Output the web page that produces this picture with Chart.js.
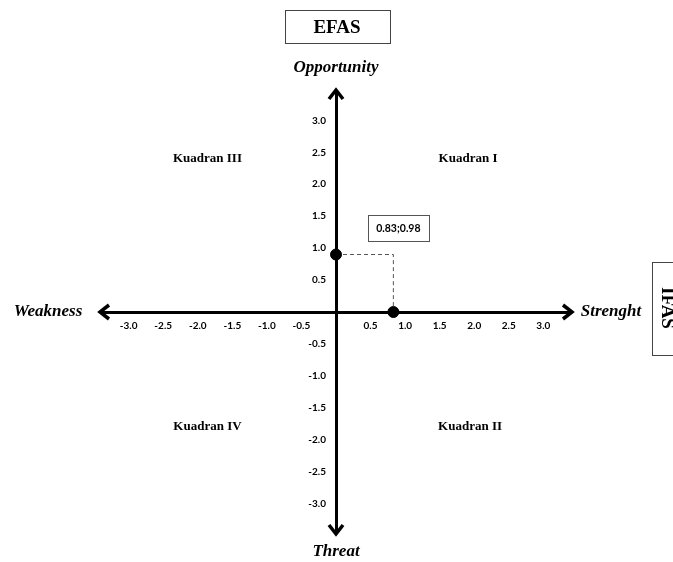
<!DOCTYPE html>
<html lang="id">
<head>
<meta charset="UTF-8">
<title>Matriks IFAS - EFAS</title>
<script src="https://cdn.jsdelivr.net/npm/chart.js"></script>
<style>
    body { margin: 0; background: #fff; }
    #wrap { width: 673px; height: 562px; }
</style>
</head>
<body>
<div id="wrap"><canvas id="chart" width="673" height="562"></canvas></div>
<script>
    // nilai hasil analisis
    const ifasScore = 0.83;
    const efasPlotted = 0.9;
    const pointLabel = '0.83;0.98';

    const xTickValues = [-3.0, -2.5, -2.0, -1.5, -1.0, -0.5, 0.5, 1.0, 1.5, 2.0, 2.5, 3.0];
    const yTickValues = [-3.0, -2.5, -2.0, -1.5, -1.0, -0.5, 0.5, 1.0, 1.5, 2.0, 2.5, 3.0];

    const quadrantNames = ['Kuadran III', 'Kuadran I', 'Kuadran IV', 'Kuadran II'];
    const quadrantX = [-1.86, 1.91, -1.86, 1.94];
    const quadrantY = [2.4, 2.4, -1.8, -1.8];

    const SERIF = '"Liberation Serif", "Times New Roman", serif';
    const SANS = 'Lato, "Open Sans", Arial, sans-serif';

    function arrowHead(ctx, x, y, dir) {
        // dir: 'right','left','up','down'
        const len = 9, half = 7;
        ctx.beginPath();
        if (dir === 'right') { ctx.moveTo(x - len, y - half); ctx.lineTo(x, y); ctx.lineTo(x - len, y + half); }
        if (dir === 'left')  { ctx.moveTo(x + len, y - half); ctx.lineTo(x, y); ctx.lineTo(x + len, y + half); }
        if (dir === 'up')    { ctx.moveTo(x - half, y + len); ctx.lineTo(x, y); ctx.lineTo(x + half, y + len); }
        if (dir === 'down')  { ctx.moveTo(x - half, y - len); ctx.lineTo(x, y); ctx.lineTo(x + half, y - len); }
        ctx.stroke();
    }

    const decorations = {
        id: 'decorations',
        afterDraw(chart) {
            const ctx = chart.ctx;
            const area = chart.chartArea;
            const xs = chart.scales.x, ys = chart.scales.y;
            const x0 = xs.getPixelForValue(0), y0 = ys.getPixelForValue(0);
            ctx.save();

            // panah ujung sumbu
            ctx.strokeStyle = '#000';
            ctx.lineWidth = 3.5;
            ctx.lineJoin = 'miter';
            arrowHead(ctx, area.right + 1, y0, 'right');
            arrowHead(ctx, area.left - 1, y0, 'left');
            arrowHead(ctx, x0, area.top - 1, 'up');
            arrowHead(ctx, x0, area.bottom + 1, 'down');

            // label arah
            ctx.fillStyle = '#000';
            ctx.textAlign = 'center';
            ctx.textBaseline = 'middle';
            ctx.font = 'italic bold 17px ' + SERIF;
            ctx.fillText('Opportunity', x0, 68);
            ctx.fillText('Threat', x0, 552);
            ctx.fillText('Weakness', 48, y0);
            ctx.fillText('Strenght', 611, y0);

            // kotak EFAS
            ctx.strokeStyle = '#444';
            ctx.lineWidth = 1;
            ctx.strokeRect(285.5, 10.5, 105, 33);
            ctx.font = 'bold 19px ' + SERIF;
            ctx.fillText('EFAS', 337, 28);

            // kotak IFAS (diputar)
            ctx.strokeRect(652.5, 262.5, 34, 93);
            ctx.save();
            ctx.translate(667, 308);
            ctx.rotate(Math.PI / 2);
            ctx.fillText('IFAS', 0, 0);
            ctx.restore();

            // nama kuadran
            ctx.font = 'bold 13px ' + SERIF;
            quadrantNames.forEach((name, i) => {
                ctx.fillText(name, xs.getPixelForValue(quadrantX[i]), ys.getPixelForValue(quadrantY[i]));
            });

            // kotak nilai titik
            const bx = xs.getPixelForValue(ifasScore) + 5;
            const by = ys.getPixelForValue(efasPlotted) - 27;
            ctx.strokeStyle = '#555';
            ctx.strokeRect(Math.round(bx - 30) + 0.5, Math.round(by - 13) + 0.5, 61, 26);
            ctx.font = 'bold 10.5px ' + SANS;
            ctx.fillText(pointLabel, bx, by + 1);

            ctx.restore();
        }
    };

    function tickSetter(values) {
        return function (scale) {
            scale.ticks = values.map(v => ({ value: v }));
        };
    }

    new Chart(document.getElementById('chart').getContext('2d'), {
        type: 'scatter',
        data: {
            datasets: [
                {
                    label: 'posisi',
                    data: [{ x: 0, y: efasPlotted }, { x: ifasScore, y: 0 }],
                    backgroundColor: '#000',
                    borderColor: '#000',
                    pointRadius: 5.5,
                    order: 1
                },
                {
                    label: 'garis bantu',
                    data: [{ x: 0, y: efasPlotted }, { x: ifasScore, y: efasPlotted }, { x: ifasScore, y: 0 }],
                    showLine: true,
                    borderColor: '#555',
                    borderWidth: 1,
                    borderDash: [4, 3],
                    pointRadius: 0,
                    order: 2
                }
            ]
        },
        options: {
            responsive: false,
            animation: false,
            layout: { padding: { left: 101, right: 102, top: 91, bottom: 29 } },
            plugins: { legend: { display: false }, tooltip: { enabled: false } },
            scales: {
                x: {
                    type: 'linear',
                    min: -3.4, max: 3.4,
                    position: { y: 0 },
                    afterBuildTicks: tickSetter(xTickValues),
                    grid: { display: false, drawTicks: false },
                    border: { display: true, color: '#000', width: 3 },
                    ticks: {
                        padding: 8,
                        color: '#000',
                        font: { family: SANS, size: 10, weight: 'bold' },
                        autoSkip: false,
                        maxRotation: 0,
                        callback: v => v.toFixed(1)
                    }
                },
                y: {
                    type: 'linear',
                    min: -3.46, max: 3.46,
                    position: { x: 0 },
                    afterBuildTicks: tickSetter(yTickValues),
                    grid: { display: false, drawTicks: false },
                    border: { display: true, color: '#000', width: 3 },
                    ticks: {
                        color: '#000',
                        font: { family: SANS, size: 10, weight: 'bold' },
                        autoSkip: false,
                        // label kanan-rata tepat di sumbu, beri jarak dengan spasi lebar
                        callback: v => v.toFixed(1) + '\u2002\u2002'
                    }
                }
            }
        },
        plugins: [decorations]
    });
</script>
</body>
</html>
